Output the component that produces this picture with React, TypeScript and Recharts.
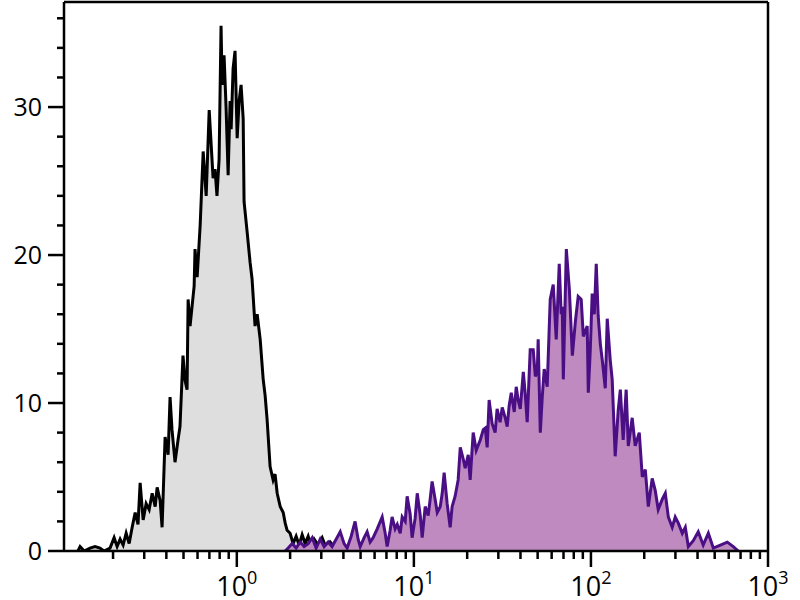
import React from "react";
import { AreaChart, Area, XAxis, YAxis, ReferenceLine } from "recharts";

// [log10(fluorescence), count]
const grayHistogram: [number, number][] = [
  [-0.897, 0], [-0.885, 0.3], [-0.862, 0], [-0.829, 0.2], [-0.801, 0.3], [-0.773, 0.2], [-0.75, 0], [-0.716, 0.2], [-0.693, 0.9], [-0.676, 0.3],
  [-0.659, 0.8], [-0.642, 0.4], [-0.625, 1.2], [-0.608, 0.5], [-0.591, 1.6], [-0.574, 2.6], [-0.558, 1.8], [-0.546, 4.6], [-0.529, 2.1], [-0.512, 3.2],
  [-0.495, 2.8], [-0.478, 3.9], [-0.461, 3.0], [-0.45, 4.3], [-0.433, 3.4], [-0.422, 1.6], [-0.405, 7.7], [-0.388, 6.5], [-0.377, 10.4], [-0.366, 8.2],
  [-0.349, 6.0], [-0.332, 7.5], [-0.321, 8.4], [-0.304, 13.2], [-0.292, 11.5], [-0.281, 10.9], [-0.275, 17], [-0.264, 15.2], [-0.253, 16.5], [-0.241, 17.9],
  [-0.236, 20.4], [-0.224, 18.5], [-0.207, 22], [-0.19, 27], [-0.173, 24], [-0.156, 29.8], [-0.145, 27.5], [-0.134, 25.2], [-0.123, 25.8], [-0.112, 24],
  [-0.1, 26.5], [-0.089, 35.5], [-0.083, 31.5], [-0.072, 33.5], [-0.061, 30.1], [-0.049, 25.4], [-0.038, 30.4], [-0.032, 28.5], [-0.021, 32.6], [-0.01, 33.8],
  [0.002, 27.9], [0.013, 30.4], [0.024, 31.5], [0.036, 29.2], [0.041, 23.6], [0.058, 21.6], [0.075, 19.5], [0.086, 18.4], [0.103, 15.2], [0.115, 16.0],
  [0.132, 14.3], [0.149, 11.6], [0.16, 10.5], [0.171, 8.9], [0.188, 5.7], [0.205, 4.8], [0.216, 5.2], [0.228, 3.9], [0.245, 3.0], [0.262, 2.6],
  [0.273, 1.9], [0.284, 1.4], [0.301, 1.2], [0.318, 0.5], [0.335, 1.0], [0.352, 0.4], [0.369, 1.1], [0.386, 0.5], [0.403, 1.0], [0.42, 0.3],
  [0.437, 0.8], [0.459, 0.4], [0.482, 0.9], [0.505, 0.2], [0.527, 0.6], [0.555, 0.2], [0.584, 0.5], [0.612, 0.1], [0.64, 0.3], [0.657, 0],
];

const purpleHistogram: [number, number][] = [
  [0.273, 0], [0.29, 0.2], [0.313, 0.5], [0.335, 0.2], [0.358, 0.6], [0.38, 0.3], [0.403, 0.5], [0.426, 0.9], [0.448, 0.2], [0.471, 0.8],
  [0.493, 0.3], [0.516, 0.6], [0.538, 0.3], [0.561, 0.8], [0.584, 1.3], [0.606, 0.5], [0.623, 0.2], [0.646, 1.0], [0.668, 2.0], [0.685, 0.8],
  [0.697, 0.3], [0.719, 0.9], [0.736, 1.3], [0.753, 0.6], [0.77, 0.9], [0.793, 1.5], [0.821, 2.3], [0.838, 1.2], [0.849, 0.3], [0.866, 1.4],
  [0.877, 2.3], [0.894, 1.5], [0.906, 1.8], [0.923, 1.2], [0.934, 2.3], [0.951, 2.0], [0.962, 3.7], [0.979, 2.5], [0.99, 0.9], [1.007, 2.2],
  [1.019, 3.9], [1.036, 2.4], [1.047, 0.9], [1.064, 3.0], [1.081, 2.4], [1.092, 3.5], [1.103, 4.7], [1.12, 3.5], [1.132, 2.6], [1.149, 3.0],
  [1.16, 3.9], [1.171, 5.3], [1.188, 3.2], [1.205, 1.6], [1.216, 3.0], [1.233, 3.7], [1.25, 4.8], [1.262, 7.0], [1.279, 6.2], [1.29, 5.6],
  [1.307, 6.5], [1.318, 4.8], [1.335, 8.0], [1.352, 6.8], [1.375, 7.5], [1.392, 8.2], [1.403, 8.3], [1.414, 7.0], [1.425, 10.2], [1.442, 8.6],
  [1.459, 8.0], [1.47, 9.6], [1.487, 8.7], [1.499, 9.7], [1.516, 9.0], [1.527, 8.4], [1.538, 9.8], [1.55, 10.7], [1.567, 9.4], [1.578, 11.1],
  [1.589, 10.2], [1.601, 9.6], [1.618, 12.1], [1.629, 10.6], [1.64, 8.7], [1.657, 13.6], [1.674, 13.6], [1.686, 11.8], [1.697, 12.1], [1.702, 14.3],
  [1.714, 8.0], [1.725, 10.4], [1.736, 12.3], [1.753, 11.1], [1.77, 17], [1.787, 18], [1.804, 14.3], [1.821, 19.4], [1.832, 16.0], [1.838, 16.5],
  [1.844, 11.6], [1.861, 20.4], [1.878, 17.7], [1.895, 13.2], [1.912, 15.5], [1.928, 17.2], [1.945, 17], [1.957, 14.5], [1.979, 15.2], [1.985, 10.7],
  [1.996, 13.5], [2.007, 17.4], [2.019, 16.0], [2.03, 19.4], [2.041, 15.9], [2.053, 14.0], [2.064, 12.9], [2.081, 11.0], [2.092, 15.7], [2.109, 12.9],
  [2.12, 11.6], [2.137, 6.4], [2.154, 9.5], [2.166, 10.9], [2.182, 7.5], [2.199, 10.9], [2.211, 7.1], [2.233, 9.0], [2.25, 7.1], [2.273, 8.0],
  [2.29, 5.0], [2.307, 5.5], [2.324, 3.0], [2.346, 4.9], [2.363, 4.1], [2.38, 2.8], [2.403, 3.5], [2.42, 3.9], [2.437, 2.3], [2.459, 1.6],
  [2.476, 2.3], [2.493, 1.9], [2.516, 1.2], [2.533, 1.6], [2.55, 0.3], [2.578, 0.7], [2.606, 1.3], [2.634, 0.4], [2.663, 1.2], [2.691, 0.2],
  [2.731, 0.4], [2.77, 0.6], [2.804, 0.3], [2.832, 0],
];

const xDecades = [0, 1, 2, 3];
const xMinorMultipliers = [2, 3, 4, 5, 6, 7, 8, 9];
const xDomain: [number, number] = [-0.976, 3];
const yMajorTicks = [0, 10, 20, 30];
const yMinorTicks = [2, 4, 6, 8, 12, 14, 16, 18, 22, 24, 26, 28, 32, 34, 36];
const yDomain: [number, number] = [0, 37.1];

type Row = { x: number; gray?: number; purple?: number };
const rows: Row[] = [
  ...grayHistogram.map(([x, v]) => ({ x, gray: v })),
  ...purpleHistogram.map(([x, v]) => ({ x, purple: v })),
].sort((a, b) => a.x - b.x);

const xTicks: number[] = [];
[-1, 0, 1, 2].forEach((d) => {
  xMinorMultipliers.forEach((m) => {
    const v = d + Math.log10(m);
    if (v >= xDomain[0]) xTicks.push(v);
  });
});
xDecades.forEach((d) => xTicks.push(d));
xTicks.sort((a, b) => a - b);

const yTicks = [...yMajorTicks, ...yMinorTicks].sort((a, b) => a - b);

const FONT = "'Open Sans', 'DejaVu Sans', sans-serif";

const YTick = (props: any) => {
  const { x, y, payload } = props;
  const v = payload.value;
  const major = yMajorTicks.includes(v);
  return (
    <g>
      <line x1={x - (major ? 16 : 7)} x2={x} y1={y} y2={y} stroke="#000" strokeWidth={2.5} />
      {major && (
        <text x={x - 22} y={y + 9} textAnchor="end" fontSize={25} fontFamily={FONT} fill="#000">
          {v}
        </text>
      )}
    </g>
  );
};

const XTick = (props: any) => {
  const { x, y, payload } = props;
  const v = payload.value;
  const major = Math.abs(v - Math.round(v)) < 1e-6;
  return (
    <g>
      <line x1={x} x2={x} y1={y} y2={y + (major ? 16 : 8)} stroke="#000" strokeWidth={2.5} />
      {major && (
        <text x={x} y={y + 45} textAnchor="middle" fontSize={27} fontFamily={FONT} fill="#000">
          <tspan>10</tspan>
          <tspan dy={-12} fontSize={18}>
            {Math.round(v)}
          </tspan>
        </text>
      )}
    </g>
  );
};

export default function App() {
  return (
    <div style={{ position: "absolute", left: 0, top: 0, width: 800, height: 600, background: "#fff" }}>
      <AreaChart width={800} height={600} data={rows} margin={{ top: 2, right: 32, left: 0, bottom: 0 }}>
        <Area
          type="linear"
          dataKey="gray"
          connectNulls
          stroke="#000000"
          strokeWidth={3}
          strokeLinejoin="miter"
          fill="#dedede"
          fillOpacity={1}
          isAnimationActive={false}
          dot={false}
          activeDot={false}
        />
        <Area
          type="linear"
          dataKey="purple"
          connectNulls
          stroke="#4b0f85"
          strokeWidth={3}
          strokeLinejoin="miter"
          fill="#be8abf"
          fillOpacity={1}
          isAnimationActive={false}
          dot={false}
          activeDot={false}
        />
        <ReferenceLine y={yDomain[1]} stroke="#000" strokeWidth={2.5} ifOverflow="visible" />
        <ReferenceLine x={xDomain[1]} stroke="#000" strokeWidth={2.5} ifOverflow="visible" />
        <XAxis
          dataKey="x"
          type="number"
          domain={xDomain}
          allowDataOverflow
          ticks={xTicks}
          interval={0}
          height={49}
          tickSize={0}
          tickMargin={0}
          tickLine={false}
          axisLine={{ stroke: "#000", strokeWidth: 2.5 }}
          tick={<XTick />}
        />
        <YAxis
          type="number"
          domain={yDomain}
          allowDataOverflow
          ticks={yTicks}
          interval={0}
          width={64}
          tickSize={0}
          tickMargin={0}
          tickLine={false}
          axisLine={{ stroke: "#000", strokeWidth: 2.5 }}
          tick={<YTick />}
        />
      </AreaChart>
    </div>
  );
}
